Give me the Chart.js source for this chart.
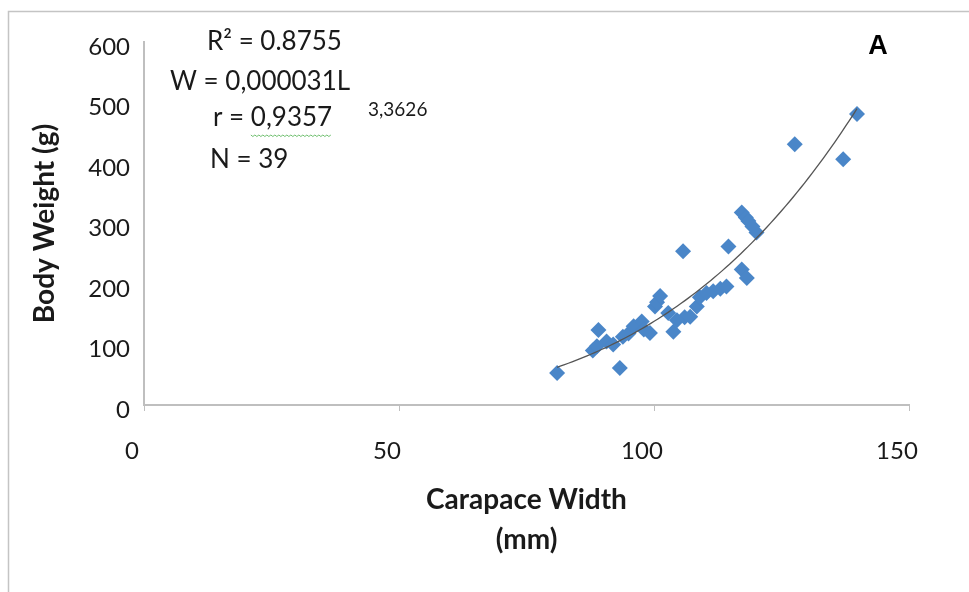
<!DOCTYPE html>
<html>
<head>
<meta charset="utf-8">
<script src="https://cdn.jsdelivr.net/npm/chart.js@4/dist/chart.umd.min.js"></script>
<style>
  html, body { margin: 0; padding: 0; background: #ffffff; }
  #wrap { width: 969px; height: 592px; position: relative; }
</style>
</head>
<body>
<div id="wrap"><canvas id="c" width="969" height="592"></canvas></div>
<script>
// Carapace width (mm)
const carapaceWidth = [
  81, 88, 88.8, 89.1, 90.7, 92, 93.3, 93.9, 95, 96,
  97.6, 98, 99.2, 100.2, 100.6, 101.2, 102.8, 103.8, 105.7, 106,
  107.1, 108.4, 109, 110.3, 111.6, 113, 114.2, 114.6, 117.2, 118.2,
  117.2, 118, 118.5, 119.3, 120.1, 127.6, 137.1, 139.8, 104.5
];
// Body weight (g)
const bodyWeight = [
  53, 90, 97, 124, 105, 100, 61, 113, 118, 130,
  138, 125, 119, 163, 170, 180, 152, 121, 254, 145,
  146, 163, 178, 185, 188, 192, 196, 262, 224, 210,
  318, 310, 304, 295, 285, 431, 406, 481, 140
];
const xTicks = [0, 50, 100, 150];
const yTicks = [0, 100, 200, 300, 400, 500, 600];
const annotationLines = ["R\u00B2 = 0.8755", "W = 0,000031L", "r = 0,9357", "N = 39"];
const exponentText = "3,3626";
const panelLabel = "A";

const points = carapaceWidth.map((x, i) => ({ x: x, y: bodyWeight[i] }));

// Power trendline (least squares on log-log, as the spreadsheet does)
const lx = carapaceWidth.map(Math.log), ly = bodyWeight.map(Math.log);
const n = lx.length;
const mx = lx.reduce((a, b) => a + b, 0) / n, my = ly.reduce((a, b) => a + b, 0) / n;
let sxy = 0, sxx = 0;
for (let i = 0; i < n; i++) { sxy += (lx[i] - mx) * (ly[i] - my); sxx += (lx[i] - mx) ** 2; }
const bFit = sxy / sxx, aFit = Math.exp(my - bFit * mx);
const xMin = Math.min(...carapaceWidth), xMax = Math.max(...carapaceWidth);
const trend = [];
for (let k = 0; k <= 80; k++) {
  const x = xMin + (xMax - xMin) * k / 80;
  trend.push({ x: x, y: aFit * Math.pow(x, bFit) });
}

const FONT = "Lato, 'Open Sans', sans-serif";

const decor = {
  id: 'decor',
  beforeDraw(chart) {
    const ctx = chart.ctx;
    ctx.save();
    ctx.fillStyle = '#ffffff';
    ctx.fillRect(0, 0, chart.width, chart.height);
    ctx.strokeStyle = '#c4c4c4';
    ctx.lineWidth = 1.5;
    ctx.beginPath();
    ctx.moveTo(8.5, chart.height + 2);
    ctx.lineTo(8.5, 11.5);
    ctx.lineTo(chart.width + 2, 11.5);
    ctx.stroke();
    ctx.restore();
  },
  afterDraw(chart) {
    const ctx = chart.ctx;
    ctx.save();
    ctx.fillStyle = '#1a1a1a';
    ctx.textBaseline = 'middle';
    ctx.textAlign = 'left';
    ctx.font = "26px " + FONT;
    ctx.fillText(annotationLines[0], 207, 42);
    ctx.fillText(annotationLines[1], 170, 82);
    ctx.fillText(annotationLines[2], 213, 118);
    ctx.fillText(annotationLines[3], 210, 160);
    const rW = ctx.measureText("r = ").width;
    const vW = ctx.measureText("0,9357").width;
    ctx.font = "19px " + FONT;
    ctx.fillText(exponentText, 368, 110);
    // spell-check squiggle under the r value
    ctx.strokeStyle = '#6fbf6f';
    ctx.lineWidth = 1;
    ctx.beginPath();
    const sx = 213 + rW, ey = 135;
    for (let x = 0; x <= vW; x += 2) {
      const yy = ey + ((x / 2) % 2 === 0 ? 0 : 1.5);
      if (x === 0) ctx.moveTo(sx + x, yy); else ctx.lineTo(sx + x, yy);
    }
    ctx.stroke();
    ctx.fillStyle = '#000000';
    ctx.font = "bold 27px 'Liberation Sans', Arial, sans-serif";
    ctx.textAlign = 'center';
    ctx.fillText(panelLabel, 878, 47);
    ctx.restore();
  }
};

new Chart(document.getElementById('c'), {
  type: 'scatter',
  data: {
    datasets: [
      {
        type: 'line',
        label: 'Power fit',
        data: trend,
        borderColor: '#555555',
        borderWidth: 1.3,
        pointRadius: 0,
        tension: 0,
        fill: false
      },
      {
        label: 'Body weight',
        data: points,
        pointStyle: 'rectRot',
        pointRadius: 8,
        pointHoverRadius: 8,
        backgroundColor: '#4a86c8',
        borderColor: '#4a86c8',
        borderWidth: 0
      }
    ]
  },
  options: {
    responsive: false,
    animation: false,
    devicePixelRatio: 1,
    layout: { padding: { top: 42, right: 60, left: 0, bottom: 0 } },
    plugins: { legend: { display: false }, tooltip: { enabled: false } },
    scales: {
      x: {
        type: 'linear',
        min: 0, max: 150,
        afterBuildTicks(scale) { scale.ticks = xTicks.map(v => ({ value: v })); },
        afterFit(scale) { scale.height = 187; },
        border: { display: true, color: '#bfbfbf', width: 2 },
        grid: { display: true, drawOnChartArea: false, drawTicks: true, tickLength: 6, color: '#bfbfbf' },
        ticks: { color: '#1a1a1a', font: { family: FONT, size: 24 }, padding: 26, labelOffset: -12, maxRotation: 0 },
        title: {
          display: true,
          text: ['Carapace Width', '(mm)'],
          color: '#1a1a1a',
          font: { family: FONT, size: 28, weight: 'bold', lineHeight: 1.43 },
          padding: { top: 0, bottom: 32 }
        }
      },
      y: {
        type: 'linear',
        min: 0, max: 600,
        afterBuildTicks(scale) { scale.ticks = yTicks.map(v => ({ value: v })); },
        afterFit(scale) { scale.width = 144; },
        border: { display: true, color: '#bfbfbf', width: 2 },
        grid: { display: false, drawTicks: false },
        ticks: { color: '#1a1a1a', font: { family: FONT, size: 24 }, padding: 14, labelOffset: 5 },
        title: {
          display: true,
          text: 'Body Weight (g)',
          color: '#1a1a1a',
          font: { family: FONT, size: 28, weight: 'bold' },
          padding: { top: 28, bottom: 0 }
        }
      }
    }
  },
  plugins: [decor]
});
</script>
</body>
</html>
